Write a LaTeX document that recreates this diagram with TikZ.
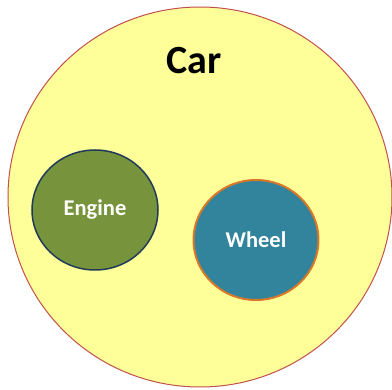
\documentclass[tikz,border=0pt]{standalone}
\usepackage{fontspec}
\setmainfont{Carlito}
\usetikzlibrary{shapes.geometric}

\definecolor{carfill}{HTML}{FFFF99}
\definecolor{carline}{HTML}{C0504D}
\definecolor{enginefill}{HTML}{77933C}
\definecolor{engineline}{HTML}{1F3A5A}
\definecolor{wheelfill}{HTML}{31849B}
\definecolor{wheelline}{HTML}{D9782A}

\tikzset{
  part/.style={ellipse, inner sep=0pt, text=white, font=\fontsize{22.5}{26}\selectfont\bfseries}
}

\begin{document}
\begin{tikzpicture}[x=1pt, y=-1pt]
\useasboundingbox (0,0) rectangle (392,390);
\node[ellipse, draw=carline, fill=carfill, line width=1pt, minimum width=384pt, minimum height=380pt, inner sep=0pt](car) at (200,197) {};
\node[anchor=base, font=\fontsize{40}{44}\selectfont\bfseries](cartitle) at (194,74) {Car};

\node[part, draw=engineline, fill=enginefill, line width=1.5pt, minimum width=126pt, minimum height=120pt](engine) at (95,210) {Engine};
\node[part, draw=wheelline, fill=wheelfill, line width=2pt, minimum width=125pt, minimum height=120pt](wheel) at (256,240) {Wheel};

\end{tikzpicture}
\end{document}
